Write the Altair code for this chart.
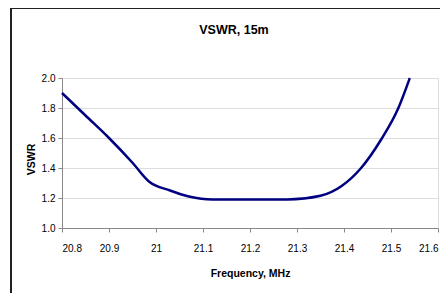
import altair as alt
import pandas as pd

freq = [20.80, 20.85, 20.90, 20.95, 20.985, 21.03, 21.07, 21.12, 21.20, 21.28,
        21.35, 21.395, 21.435, 21.48, 21.515, 21.54]
vswr = [1.90, 1.75, 1.60, 1.435, 1.31, 1.25, 1.21, 1.19, 1.19, 1.19,
        1.215, 1.28, 1.395, 1.595, 1.795, 2.0]
x_ticks = [20.8, 20.9, 21.0, 21.1, 21.2, 21.3, 21.4, 21.5, 21.6]
y_ticks = [1.0, 1.2, 1.4, 1.6, 1.8, 2.0]
title_text = ["VSWR, 15m"]

df = pd.DataFrame({"f": freq, "v": vswr})
FONT = "Liberation Sans Narrow, Liberation Sans, Arial, sans-serif"

line = alt.Chart(df).mark_line(color="#000080", strokeWidth=2.5, interpolate="monotone").encode(
    x=alt.X("f:Q", scale=alt.Scale(domain=[20.8, 21.6], nice=False, zero=False),
            axis=alt.Axis(values=x_ticks, format=".3~g", title="Frequency, MHz",
                          grid=False, tickSize=4, labelPadding=11, titlePadding=15,
                          titleFontSize=10.5)),
    y=alt.Y("v:Q", scale=alt.Scale(domain=[1.0, 2.0], nice=False, zero=False),
            axis=alt.Axis(values=y_ticks, format=".1f", title="VSWR",
                          grid=True, tickSize=4, labelPadding=3,
                          titleFontSize=10.5, titleX=-31, titleY=81, titleAngle=270,
                          titleAlign="center", titleBaseline="middle")),
)

title = alt.Chart(pd.DataFrame({"t": title_text})).mark_text(
    font=FONT, fontSize=12.5, fontWeight="bold", color="black", align="center",
    baseline="alphabetic").encode(text="t:N", x=alt.value(172), y=alt.value(-44))

frame_top = alt.Chart(df).mark_rule(color="#222", strokeWidth=2).encode(
    x=alt.value(-51), x2=alt.value(400), y=alt.value(-70))
frame_left = alt.Chart(df).mark_rule(color="#222", strokeWidth=1.5).encode(
    x=alt.value(-51), y=alt.value(-70), y2=alt.value(230))

chart = alt.layer(frame_top, frame_left, title, line).properties(
    width=376, height=150,
    autosize=alt.AutoSizeParams(type="none"),
    padding={"left": 54, "top": 70, "right": 2, "bottom": 65},
).configure_view(stroke="black", strokeWidth=1, fill="white").configure_axis(
    labelFont=FONT, titleFont=FONT, labelFontSize=11, labelColor="black",
    titleColor="black", titleFontWeight="bold", domainColor="black",
    tickColor="black", gridColor="#333", gridOpacity=1, gridWidth=1,
).configure(background="white")

chart.save("out.html", embed_options={"renderer": "svg", "actions": False})
